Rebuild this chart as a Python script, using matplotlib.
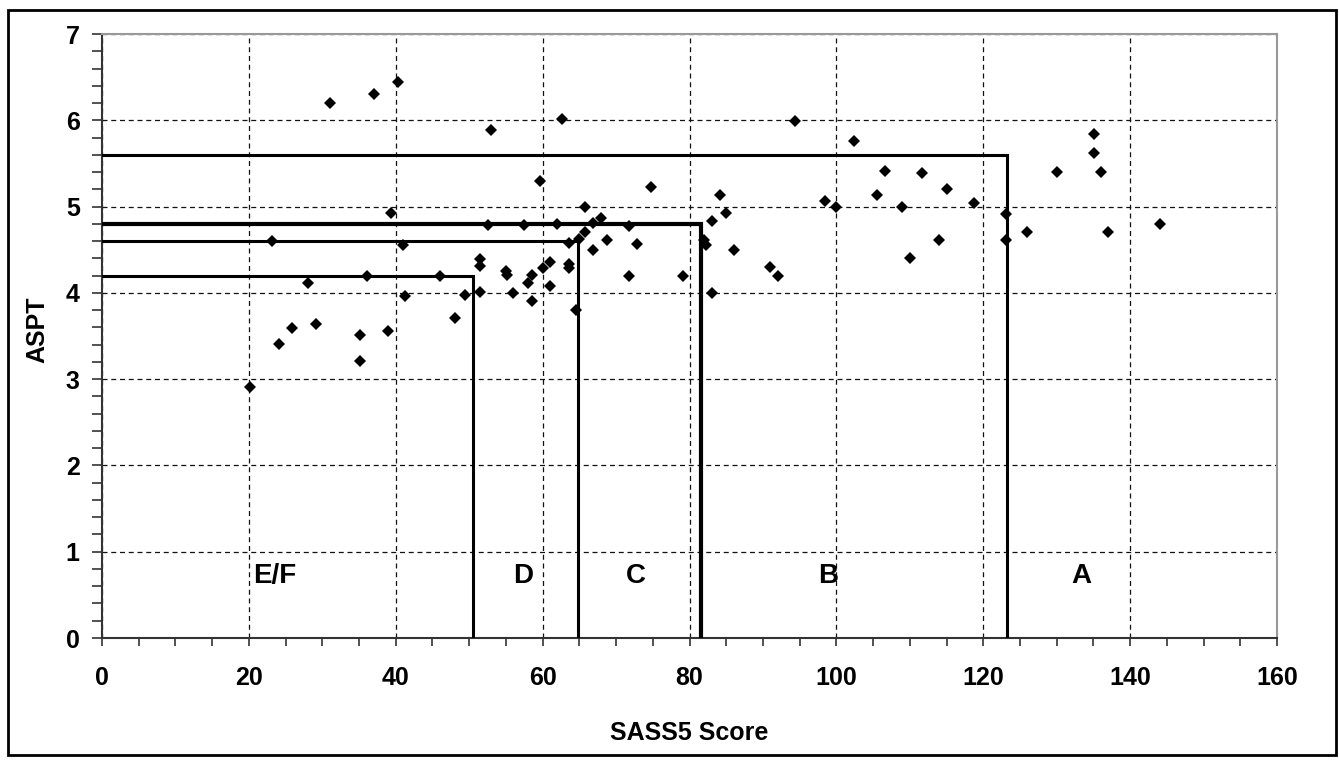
import matplotlib
matplotlib.use('Agg')
import matplotlib.pyplot as plt
from matplotlib.ticker import MultipleLocator
from matplotlib.patches import Rectangle

plt.rcParams['font.family'] = ['Liberation Sans', 'DejaVu Sans']
plt.rcParams['font.weight'] = 'bold'

# SASS5 score vs ASPT, one point per site
sass5 = [20.1, 23.1, 24.1, 25.9, 28.0, 29.1, 31.0, 35.1, 35.1, 36.1,
         37.1, 39.0, 39.3, 40.3, 41.0, 41.2, 46.0, 48.1, 49.4, 51.5,
         51.5, 51.5, 52.5, 53.0, 55.0, 55.1, 56.0, 57.5, 58.0, 58.6,
         58.6, 59.6, 60.0, 61.0, 61.0, 62.0, 62.7, 63.6, 63.6, 63.6,
         64.6, 64.9, 65.8, 65.7, 66.8, 66.8, 68.0, 68.8, 71.8, 71.8,
         72.9, 74.8, 79.1, 82.0, 82.2, 83.1, 83.0, 84.1, 85.0, 86.0,
         91.0, 92.1, 94.3, 98.4, 100.0, 102.4, 105.5, 106.6, 109.0, 110.0,
         111.6, 114.0, 115.0, 118.8, 123.1, 123.1, 126.0, 130.1, 135.1, 135.1,
         136.1, 137.0, 144.1]
aspt = [2.91, 4.60, 3.41, 3.59, 4.11, 3.64, 6.20, 3.51, 3.21, 4.20,
        6.30, 3.56, 4.93, 6.44, 4.56, 3.96, 4.20, 3.71, 3.98, 4.39,
        4.31, 4.01, 4.79, 5.89, 4.25, 4.21, 4.00, 4.79, 4.11, 4.21,
        3.91, 5.30, 4.29, 4.36, 4.08, 4.80, 6.01, 4.34, 4.29, 4.58,
        3.80, 4.62, 4.71, 5.00, 4.81, 4.50, 4.87, 4.61, 4.77, 4.20,
        4.57, 5.23, 4.20, 4.61, 4.56, 4.00, 4.83, 5.14, 4.93, 4.50,
        4.30, 4.20, 5.99, 5.07, 5.00, 5.76, 5.14, 5.41, 5.00, 4.41,
        5.39, 4.61, 5.20, 5.04, 4.91, 4.61, 4.71, 5.40, 5.84, 5.62,
        5.40, 4.70, 4.80]

# class boundaries (SASS5 limit, ASPT limit)
band_sass = [123.3, 81.5, 64.8, 50.5]
band_aspt = [5.6, 4.8, 4.6, 4.2]
band_lw = [2.2, 3.0, 2.2, 2.2]

band_names = ['E/F', 'D', 'C', 'B', 'A']
band_name_x = [23.5, 57.3, 72.7, 98.9, 133.4]
band_name_y = 0.72

fig = plt.figure(figsize=(13.39, 7.65), dpi=100)
ax = fig.add_axes([0.0762, 0.166, 0.8775, 0.7895])

ax.grid(True, which='major', color='#111111', linestyle=(0, (4, 3)), linewidth=0.9)
ax.set_axisbelow(True)

for sx, ay, lw in zip(band_sass, band_aspt, band_lw):
    ax.plot([0, sx, sx], [ay, ay, 0], color='black', linewidth=lw,
            solid_joinstyle='miter', zorder=3)

ax.plot(sass5, aspt, linestyle='none', marker='D', markersize=6.5,
        color='black', markeredgewidth=0, zorder=4)

for name, bx in zip(band_names, band_name_x):
    ax.text(bx, band_name_y, name, ha='center', va='center',
            fontsize=20, fontweight='bold', zorder=5)

ax.set_xlim(0, 160)
ax.set_ylim(0, 7)
ax.xaxis.set_major_locator(MultipleLocator(20))
ax.xaxis.set_minor_locator(MultipleLocator(5))
ax.yaxis.set_major_locator(MultipleLocator(1))
ax.yaxis.set_minor_locator(MultipleLocator(0.2))

ax.tick_params(axis='x', which='both', direction='out', length=6, width=1.2, color='#333333')
ax.tick_params(axis='x', which='major', labelsize=18, pad=14)
ax.tick_params(axis='y', which='both', direction='out', length=7, width=1.2, color='#333333')
ax.tick_params(axis='y', which='major', labelsize=18, pad=9)
for lab in ax.get_xticklabels() + ax.get_yticklabels():
    lab.set_fontweight('bold')

ax.spines['left'].set_color('#333333')
ax.spines['bottom'].set_color('#333333')
ax.spines['left'].set_linewidth(1.5)
ax.spines['bottom'].set_linewidth(1.5)
ax.spines['top'].set_color('#999999')
ax.spines['right'].set_color('#999999')
ax.spines['top'].set_linewidth(1.5)
ax.spines['right'].set_linewidth(1.5)

ax.set_xlabel('SASS5 Score', fontsize=18, fontweight='bold')
ax.set_ylabel('ASPT', fontsize=18, fontweight='bold')
ax.xaxis.set_label_coords(0.5, -0.138)
ax.yaxis.set_label_coords(-0.045, 0.51)

# outer frame round the whole figure
fig.patches.append(Rectangle((8 / 1339, 1 - 755 / 765), 1328 / 1339, 745 / 765,
                             transform=fig.transFigure, fill=False,
                             edgecolor='black', linewidth=2))

fig.savefig('out.png', dpi=100)
